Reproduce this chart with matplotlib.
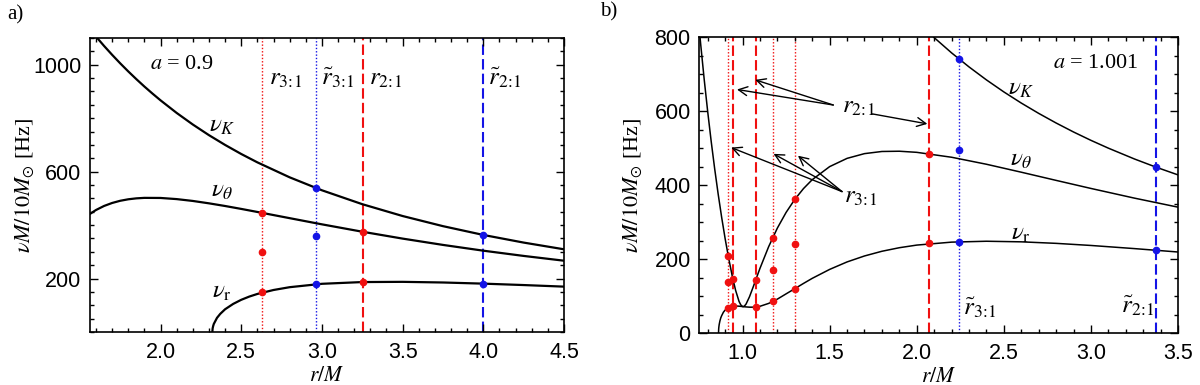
import matplotlib
matplotlib.use("Agg")
import matplotlib.pyplot as plt
from matplotlib.ticker import MultipleLocator, FixedLocator

plt.rcParams['font.family'] = ['Liberation Sans', 'DejaVu Sans']
plt.rcParams['mathtext.fontset'] = 'stix'

# ---------------- panel a: a = 0.9 ----------------
ra_K = [1.58, 1.60, 1.65, 1.70, 1.75, 1.80, 1.85, 1.90, 1.95, 2.00, 2.10, 2.20, 2.30,
        2.40, 2.50, 2.60, 2.80, 3.00, 3.25, 3.50, 3.75, 4.00, 4.25, 4.50]
nuK_a = [1119.9, 1105.4, 1070.4, 1037.1, 1005.3, 975.0, 946.1, 918.4, 892.1, 866.8, 819.6,
         776.3, 736.5, 699.9, 666.0, 634.7, 578.7, 530.2, 478.2, 433.9, 396.0, 363.1,
         334.5, 309.4]

ra_th = [1.56, 1.60, 1.65, 1.70, 1.75, 1.80, 1.85, 1.90, 2.00, 2.10, 2.20, 2.30, 2.40,
         2.50, 2.60, 2.80, 3.00, 3.25, 3.50, 3.75, 4.00, 4.25, 4.50]
nuth_a = [440.7, 456.4, 471.5, 482.7, 490.9, 496.5, 500.0, 501.8, 501.5, 497.2, 490.3,
          481.4, 471.4, 460.5, 449.1, 425.9, 402.8, 375.2, 349.4, 325.8, 304.2, 284.6, 266.7]

ra_r = [2.321, 2.323, 2.326, 2.33, 2.35, 2.37, 2.40, 2.45, 2.50, 2.55, 2.60, 2.70, 2.80,
        3.00, 3.25, 3.50, 3.75, 4.00, 4.25, 4.50]
nur_a = [0, 14, 22, 30, 53, 67.8, 85, 105, 120.4, 132.5, 142.3, 157.1, 167.6, 180.3,
         186.8, 187.6, 185.2, 180.9, 175.6, 169.7]

# resonance radii and the frequencies marked on them
a_r31, a_r31_nu = 2.63, [446, 298, 148]
a_r21, a_r21_nu = 3.254, [374, 187]
a_rt31, a_rt31_nu = 2.965, [538, 358, 179]
a_rt21, a_rt21_nu = 4.0, [362, 181]

# ---------------- panel b: a = 1.001 ----------------
rb_K = [2.05, 2.10, 2.20, 2.30, 2.40, 2.50, 2.60, 2.70, 2.80, 2.90, 3.00, 3.10, 3.25,
        3.375, 3.50]
nuK_b = [821.1, 799.2, 757.9, 720.0, 684.9, 652.4, 622.3, 594.4, 568.4, 544.1, 521.5,
         500.4, 471.1, 448.8, 428.1]

rb_th = [0.75, 0.76, 0.78, 0.80, 0.82, 0.84, 0.86, 0.88, 0.90, 0.92, 0.94, 0.96, 0.98,
         0.99, 1.00, 1.005, 1.01, 1.02, 1.04, 1.06, 1.08, 1.10, 1.15, 1.20, 1.25, 1.30,
         1.35, 1.40, 1.50, 1.60, 1.70, 1.80, 1.90, 2.00, 2.20, 2.40, 2.60, 2.80, 3.00,
         3.25, 3.50]
nuth_b = [829.5, 779.6, 685.5, 598.8, 518.6, 444.6, 376.4, 313.6, 255.9, 203.5, 156.6,
          116.3, 86.0, 76.7, 72.3, 72.3, 73.3, 78.9, 98.9, 123.9, 149.9, 175.5, 234.3,
          284.5, 326.7, 362.0, 391.2, 415.2, 450.5, 472.8, 485.6, 491.4, 492.1, 489.1,
          475.8, 456.9, 435.4, 413.3, 391.5, 365.3, 340.9]

rb_r = [0.862, 0.863, 0.864, 0.866, 0.87, 0.875, 0.88, 0.89, 0.90, 0.92, 0.94, 0.96,
        0.98, 1.00, 1.02, 1.04, 1.06, 1.08, 1.10, 1.15, 1.20, 1.25, 1.30, 1.35, 1.40,
        1.50, 1.60, 1.70, 1.80, 1.90, 2.00, 2.20, 2.40, 2.60, 2.80, 3.00, 3.25, 3.50]
nur_b = [0, 12, 17, 24, 33.4, 41.7, 47.5, 56.9, 62.8, 69.7, 72.7, 73.7, 73.3, 72.2,
         71.3, 70.6, 70.6, 71.4, 73.0, 80.8, 92.4, 106.6, 120.6, 134.8, 148.5, 172.7,
         192.9, 209.0, 221.7, 231.3, 238.4, 246.4, 248.8, 247.2, 243.1, 237.4, 228.9,
         219.7]

b_r31 = [0.918, 1.172, 1.30]
b_r31_nu = [[208, 139, 69.5], [257, 171, 86], [362, 241, 120.6]]
b_r21 = [0.944, 1.077, 2.07]
b_r21_nu = [[147, 73.5], [145, 71.5], [485.5, 243]]
b_rt31, b_rt31_nu = 2.243, [742, 495, 247.5]
b_rt21, b_rt21_nu = 3.375, [449, 224.3]

RED = '#f01010'
BLUE = '#1414e6'
DOT = (0, (1, 1.4))
DASH = (0, (5, 2))

R31 = r'$r_{\mathit{3\!:\!1}}$'
R21 = r'$r_{\mathit{2\!:\!1}}$'
RT31 = r'$\tilde{r}_{\mathit{3\!:\!1}}$'
RT21 = r'$\tilde{r}_{\mathit{2\!:\!1}}$'

fig = plt.figure(figsize=(12, 3.85), dpi=100)
ax1 = fig.add_axes([0.0746, 0.1377, 0.3954, 0.7636])
ax2 = fig.add_axes([0.5825, 0.1343, 0.3992, 0.7688])

serif = 'Liberation Serif'


def style(ax):
    ax.tick_params(which='both', direction='in', top=True, right=True, width=1)
    ax.tick_params(which='major', length=6, labelsize=15.5, pad=6)
    ax.tick_params(axis='x', which='major', pad=7)
    ax.tick_params(which='minor', length=3)
    for s in ax.spines.values():
        s.set_linewidth(1.2)
    ax.set_xlabel(r'$r/M$', fontsize=15.5)
    ax.set_ylabel(r'$\nu M/10M_{\odot}$ [Hz]', family=serif, fontsize=16)
    ax.xaxis.set_label_coords(0.5, -0.112)
    ax.yaxis.label.set_va('center')


def vline(ax, x, color, ls, lw, nus):
    ax.axvline(x, color=color, ls=ls, lw=lw, zorder=1)
    ax.plot([x] * len(nus), nus, 'o', color=color, ms=4.5, zorder=3)


# panel a
ax1.plot(ra_K, nuK_a, color='k', lw=1.6)
ax1.plot(ra_th, nuth_a, color='k', lw=1.6)
ax1.plot(ra_r, nur_a, color='k', lw=1.6)
vline(ax1, a_r31, RED, DOT, 1.0, a_r31_nu)
vline(ax1, a_rt31, BLUE, DOT, 1.0, a_rt31_nu)
vline(ax1, a_r21, RED, DASH, 1.5, a_r21_nu)
vline(ax1, a_rt21, BLUE, DASH, 1.5, a_rt21_nu)
ax1.set_xlim(1.56, 4.5)
ax1.set_ylim(0, 1100)
ax1.xaxis.set_major_locator(MultipleLocator(0.5))
ax1.xaxis.set_minor_locator(MultipleLocator(0.1))
ax1.yaxis.set_major_locator(FixedLocator([200, 600, 1000]))
ax1.yaxis.set_minor_locator(MultipleLocator(50))
style(ax1)
ax1.yaxis.set_label_coords(-0.136, 0.5)

ax1.text(2.13, 1000, r'$a$ = 0.9', family=serif, fontsize=16, ha='center', va='center')
ax1.text(2.38, 775, r'$\nu_K$', fontsize=18, ha='center', va='center')
ax1.text(2.38, 530, r'$\nu_\theta$', fontsize=18, ha='center', va='center')
ax1.text(2.38, 152, r'$\nu_{\rm r}$', fontsize=18, ha='center', va='center')
for x, s in [(2.773, R31), (3.099, RT31), (3.395, R21), (4.134, RT21)]:
    ax1.text(x, 925, s, fontsize=18, ha='center', va='baseline')

# panel b
ax2.plot(rb_K, nuK_b, color='k', lw=1.1)
ax2.plot(rb_th, nuth_b, color='k', lw=1.1)
ax2.plot(rb_r, nur_b, color='k', lw=1.1)
for x, nus in zip(b_r31, b_r31_nu):
    vline(ax2, x, RED, DOT, 1.0, nus)
for x, nus in zip(b_r21, b_r21_nu):
    vline(ax2, x, RED, DASH, 1.5, nus)
vline(ax2, b_rt31, BLUE, DOT, 1.0, b_rt31_nu)
vline(ax2, b_rt21, BLUE, DASH, 1.5, b_rt21_nu)
ax2.set_xlim(0.75, 3.5)
ax2.set_ylim(0, 800)
ax2.xaxis.set_major_locator(FixedLocator([1.0, 1.5, 2.0, 2.5, 3.0, 3.5]))
ax2.xaxis.set_minor_locator(MultipleLocator(0.1))
ax2.yaxis.set_major_locator(MultipleLocator(200))
ax2.yaxis.set_minor_locator(MultipleLocator(50))
style(ax2)
ax2.yaxis.set_label_coords(-0.138, 0.5)

ax2.text(3.027, 730, r'$a$ = 1.001', family=serif, fontsize=16, ha='center', va='center')
ax2.text(2.60, 663, r'$\nu_K$', fontsize=18, ha='center', va='center')
ax2.text(2.60, 471, r'$\nu_\theta$', fontsize=18, ha='center', va='center')
ax2.text(2.60, 271, r'$\nu_{\rm r}$', fontsize=18, ha='center', va='center')
ax2.text(2.36, 68, RT31, fontsize=18, ha='center', va='center')
ax2.text(3.27, 74, RT21, fontsize=18, ha='center', va='center')
ax2.text(1.665, 615, R21, fontsize=18, ha='center', va='center')
ax2.text(1.675, 372, R31, fontsize=18, ha='center', va='center')

arrow = dict(arrowstyle='->', lw=1, color='k', shrinkA=0, shrinkB=0, mutation_scale=16)
for tail, head in [((1.521, 617), (0.968, 659)), ((1.521, 617), (1.073, 685)),
                   ((1.745, 593), (2.061, 566)),
                   ((1.571, 383), (0.935, 502)), ((1.571, 383), (1.178, 485)),
                   ((1.571, 383), (1.318, 480))]:
    ax2.annotate('', xy=head, xytext=tail, arrowprops=arrow)

fig.text(0.013, 0.962, 'a)', family=serif, fontsize=15, ha='center', va='center')
fig.text(0.507, 0.969, 'b)', family=serif, fontsize=15, ha='center', va='center')

fig.savefig('out.png', dpi=100)
